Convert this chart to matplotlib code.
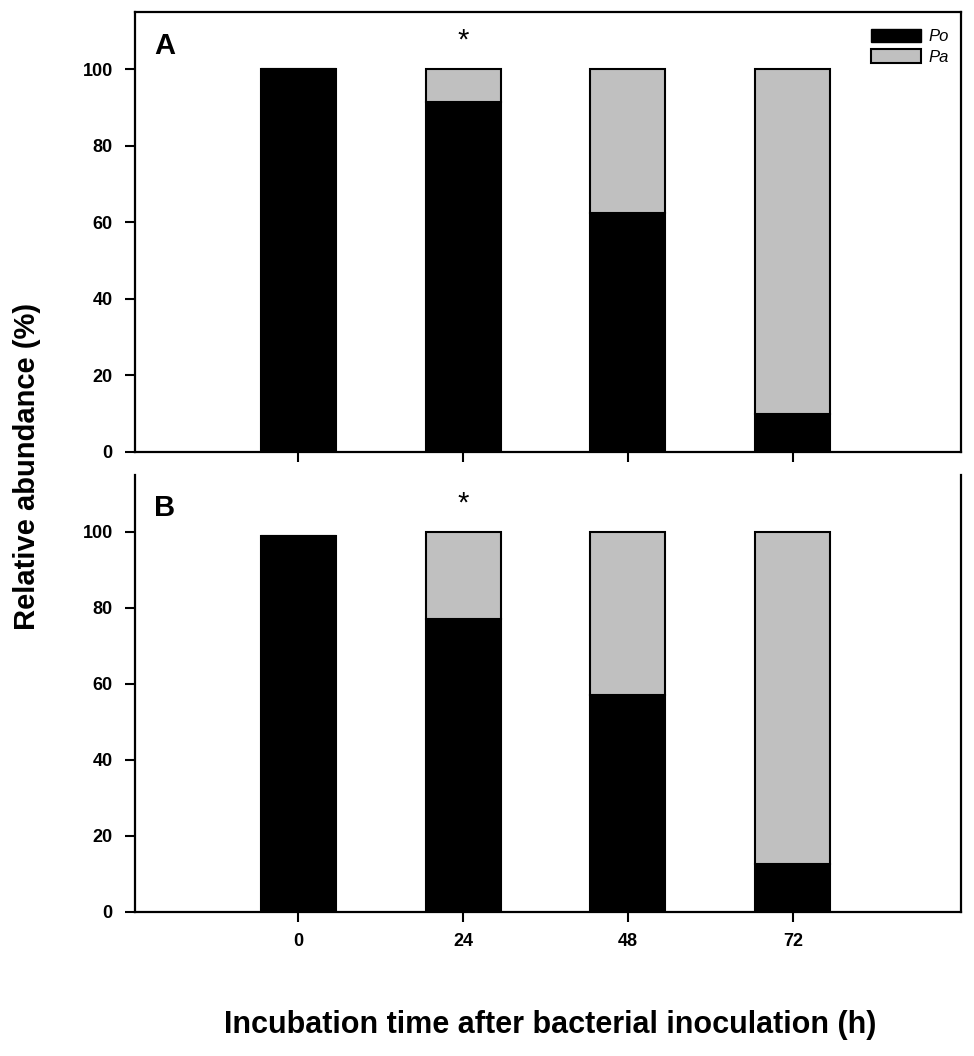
import numpy as np
import matplotlib
matplotlib.use("Agg")
import matplotlib.pyplot as plt
from matplotlib.patches import Patch

plt.rcParams['font.family'] = ['Liberation Sans', 'DejaVu Sans']

# data
times = ['0', '24', '48', '72']
po_a = [100, 91.5, 62.5, 10]
pa_a = [0, 8.5, 37.5, 90]
po_b = [99, 77, 57, 12.5]
pa_b = [0, 23, 43, 87.5]
stars = ['', '*', '', '']

BLACK = '#000000'
GREY = '#c0c0c0'

fig = plt.figure(figsize=(9.74, 10.56), dpi=100)
axA = fig.add_axes([0.1386, 0.572, 0.848, 0.4167])
axB = fig.add_axes([0.1386, 0.1364, 0.848, 0.414])

x = np.arange(len(times))
W = 0.455

for ax, po, pa, letter in [(axA, po_a, pa_a, 'A'), (axB, po_b, pa_b, 'B')]:
    ax.bar(x, po, W, color=BLACK, edgecolor='black', linewidth=1.5)
    ax.bar(x, pa, W, bottom=po, color=GREY, edgecolor='black', linewidth=1.5)
    ax.set_xlim(-0.99, 4.02)
    ax.set_ylim(0, 115)
    ax.set_yticks([0, 20, 40, 60, 80, 100])
    ax.set_xticks(x)
    ax.tick_params(direction='out', length=7, width=1.5, labelsize=13)
    ax.tick_params(axis='y', pad=9)
    for lab in ax.get_yticklabels():
        lab.set_fontweight('bold')
    for s in ax.spines.values():
        s.set_linewidth(1.6)
    ax.text(0.023, 0.955, letter, transform=ax.transAxes, fontsize=21,
            fontweight='bold', va='top', ha='left')
    for xi, st in zip(x, stars):
        if st:
            ax.text(xi, 107.5, st, ha='center', va='center', fontsize=21)

axA.set_xticklabels([])
axB.set_xticklabels(times, fontweight='bold')
axB.tick_params(axis='x', pad=8)
axB.spines['top'].set_visible(False)

handles = [Patch(facecolor=BLACK, edgecolor='black', label='Po'),
           Patch(facecolor=GREY, edgecolor='black', linewidth=1.5, label='Pa')]
leg = axA.legend(handles=handles, loc='upper right', frameon=False,
                 bbox_to_anchor=(0.998, 0.985), fontsize=12,
                 handlelength=3.0, handleheight=0.9, handletextpad=0.5,
                 labelspacing=0.3, borderaxespad=0.2)
for t in leg.get_texts():
    t.set_fontstyle('italic')

fig.text(0.028, 0.558, 'Relative abundance (%)', rotation=90, ha='center',
         va='center', fontsize=21, fontweight='bold')
fig.text(0.565, 0.029, 'Incubation time after bacterial inoculation (h)',
         ha='center', va='center', fontsize=22, fontweight='bold')

fig.savefig('out.png', dpi=100)
